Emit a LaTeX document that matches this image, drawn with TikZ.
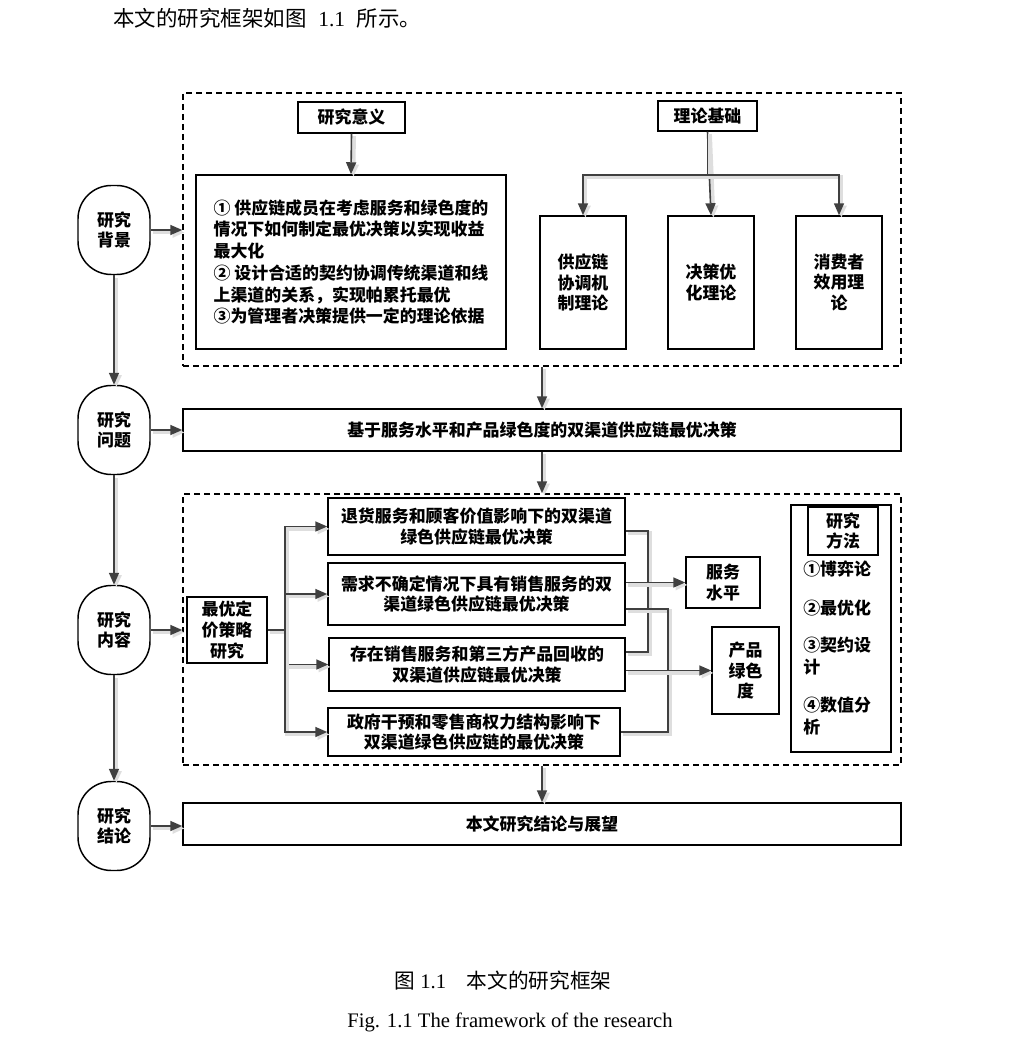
\documentclass[tikz,border=0pt]{standalone}
\usepackage{fontspec}
\setmainfont{Liberation Serif}
\newfontfamily\cjk{Noto Sans CJK SC}
\usetikzlibrary{arrows.meta}
\definecolor{arrowgray}{HTML}{404040}
\tikzset{
  rect/.style n args={4}{minimum width={(#3-#1)*0.75pt}, minimum height={(#4-#2)*0.75pt},
    at={({(#1+#3)/2},{(#2+#4)/2})}},
  box/.style={draw=black, line width=1.1pt, inner sep=0pt, align=center,
    font=\cjk\bfseries\fontsize{12.7}{15.5}\selectfont},
  oval/.style={box, rounded corners=25pt, minimum width=54pt, minimum height=66.75pt},
  dashbox/.style={draw=black, line width=1.1pt, inner sep=0pt, dash pattern=on 4.5pt off 3pt},
  plain/.style={inner sep=0pt, align=left, font=\cjk\bfseries\fontsize{12.7}{16.5}\selectfont},
  conn/.style={draw=arrowgray, line width=1.2pt,
    preaction={draw=black!13, line width=3pt, transform canvas={shift={(1.8pt,-1.8pt)}}}},
  arr/.style={conn, -{Triangle[length=9pt,width=7.5pt]}},
}
\begin{document}
\begin{tikzpicture}[x=0.75pt, y=-0.75pt]
\useasboundingbox (0,0) rectangle (1008,1048);

% title line
\node[anchor=west, inner sep=0pt, font=\fontsize{16.1}{19}\selectfont] (title) at (113,18)
  {{\cjk 本文的研究框架如图}\hspace{0.55em}1.1\hspace{0.55em}{\cjk 所示。}};

% ----- top dashed region
\node[dashbox, rect={183}{93}{901}{366}] (d1) {};
\node[box, rect={298}{102}{405}{133}] (sig) {研究意义};
\node[box, rect={196}{175}{506}{349}, align=left, font=\cjk\bfseries\fontsize{12.7}{16.3}\selectfont] (main)
  {① 供应链成员在考虑服务和绿色度的\\情况下如何制定最优决策以实现收益\\最大化\\② 设计合适的契约协调传统渠道和线\\上渠道的关系，实现帕累托最优\\③为管理者决策提供一定的理论依据};
\node[box, rect={658}{101}{757}{131}] (basis) {理论基础};
\node[box, rect={540}{216}{626}{349}] (t1) {供应链\\协调机\\制理论};
\node[box, rect={668}{216}{754}{349}] (t2) {决策优\\化理论};
\node[box, rect={796}{216}{882}{349}] (t3) {消费者\\效用理\\论};
\coordinate (j) at (711,175);

\draw[arr] (sig.south) -- (main.north);
\draw[arr] (basis.south) -- (t2.north);
\draw[arr] (basis.south) -- (basis.south |- j) -| (t1.north);
\draw[arr] (basis.south) -- (basis.south |- j) -| (t3.north);

% ----- left ovals
\node[oval] (bg) at (114,230) {研究\\背景};
\node[oval] (wq) at (114,430) {研究\\问题};
\node[oval] (nr) at (114,630) {研究\\内容};
\node[oval] (jl) at (114,826) {研究\\结论};

\draw[arr] (bg.south) -- (wq.north);
\draw[arr] (wq.south) -- (nr.north);
\draw[arr] (nr.south) -- (jl.north);

% ----- problem
\node[box, rect={183}{409}{901}{451}] (prob) {基于服务水平和产品绿色度的双渠道供应链最优决策};

\draw[arr] (bg.east) -- (d1.west |- bg.east);
\draw[arr] (wq.east) -- (prob.west |- wq.east);
\draw[arr] (d1.south) -- (prob.north);

% ----- content dashed region
\node[dashbox, rect={183}{494}{901}{765}] (d2) {};
\draw[arr] (prob.south) -- (d2.north);
\draw[arr] (nr.east) -- (d2.west |- nr.east);

\node[box, rect={187}{597}{267}{663}] (price) {最优定\\价策略\\研究};
\node[box, rect={328}{498}{625}{555}] (b1) {退货服务和顾客价值影响下的双渠道\\绿色供应链最优决策};
\node[box, rect={328}{563}{625}{625}] (b2) {需求不确定情况下具有销售服务的双\\渠道绿色供应链最优决策};
\node[box, rect={329}{638}{625}{691}] (b3) {存在销售服务和第三方产品回收的\\双渠道供应链最优决策};
\node[box, rect={328}{708}{620}{756}] (b4) {政府干预和零售商权力结构影响下\\双渠道绿色供应链的最优决策};
\coordinate (trunk) at (285,630);

\draw[arr] (price.east) -- (trunk) |- (b1.west);
\draw[arr] (price.east) -- (trunk) |- (b2.west);
\draw[arr] (price.east) -- (trunk) |- (b3.west);
\draw[arr] (price.east) -- (trunk) |- (b4.west);

\node[box, rect={686}{557}{760}{608}] (svc) {服务\\水平};
\node[box, rect={712}{627}{779}{714}] (grn) {产品\\绿色\\度};

\draw[conn] ([yshift=-3.4pt]b1.east) -- ++(22,0) |- ([yshift=9.4pt]b3.east);
\draw[conn] ([yshift=-11.25pt]b2.east) -- ++(42,0) |- (b4.east);
\draw[arr] (b2.east |- svc.west) -- (svc.west);
\draw[arr] (b3.east |- grn.west) -- (grn.west);

% methods
\node[box, rect={791}{505}{891}{752}] (meth) {};
\node[box, rect={808}{507}{878}{555}] (methT) {研究\\方法};
\node[plain, anchor=west] (m1) at (803,569) {①博弈论};
\node[plain, anchor=west] (m2) at (803,608) {②最优化};
\node[plain, anchor=west] (m3) at (803,656) {③契约设\\计};
\node[plain, anchor=west] (m4) at (803,716) {④数值分\\析};

% ----- conclusion
\node[box, rect={183}{803}{901}{845}] (conc) {本文研究结论与展望};
\draw[arr] (d2.south) -- (conc.north);
\draw[arr] (jl.east) -- (conc.west |- jl.east);

% ----- captions
\node[inner sep=0pt, font=\fontsize{15.5}{18}\selectfont] (cap1) at (503,981)
  {{\cjk 图} 1.1\quad{\cjk 本文的研究框架}};
\node[inner sep=0pt, font=\fontsize{15.5}{18}\selectfont] (cap2) at (510,1022)
  {Fig. 1.1 The framework of the research};
\end{tikzpicture}
\end{document}
